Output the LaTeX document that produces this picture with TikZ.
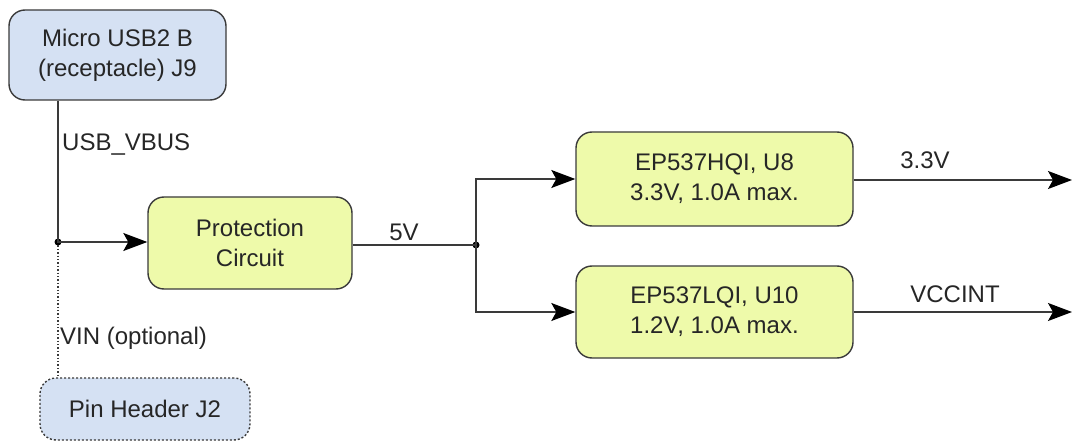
\documentclass[tikz,border=0pt]{standalone}
\usepackage{fontspec}
\setmainfont{Liberation Sans}
\usetikzlibrary{arrows.meta}
\definecolor{boxblue}{HTML}{D5E1F3}
\definecolor{boxgreen}{HTML}{EEFAAA}
\definecolor{edge}{HTML}{3A3A3A}
\tikzset{
  x=1pt,y=-1pt,
  blk/.style={draw=edge,line width=1.4pt,rounded corners=16pt,inner sep=0pt,align=center,font=\fontsize{24}{30}\selectfont,text=black!85},
  bluebox/.style={blk,fill=boxblue},
  greenbox/.style={blk,fill=boxgreen},
  wire/.style={draw=edge,line width=1.4pt},
  arr/.style={wire,-{Stealth[length=24pt,width=18pt,inset=5pt,color=black]}},
  lbl/.style={font=\fontsize{24}{30}\selectfont,text=black!85,inner sep=0pt},
  dot/.style={circle,fill=black,inner sep=0pt,minimum size=7pt}
}
\begin{document}
\begin{tikzpicture}
\useasboundingbox (0,0) rectangle (1072,441);
\node[bluebox,minimum width=217pt,minimum height=90pt] (usb) at (117.5,55) {Micro USB2 B\\(receptacle) J9};
\node[greenbox,minimum width=204pt,minimum height=92pt] (prot) at (250,243) {Protection\\Circuit};
\node[greenbox,minimum width=277pt,minimum height=94pt] (u8) at (714.5,179) {EP537HQI, U8\\3.3V, 1.0A max.};
\node[greenbox,minimum width=277pt,minimum height=92pt] (u10) at (714.5,312) {EP537LQI, U10\\1.2V, 1.0A max.};
\node[bluebox,dash pattern=on 2pt off 2pt,minimum width=210pt,minimum height=62pt] (pin) at (145,409) {Pin Header J2};
\node[dot] (j1) at (58,242) {};
\node[dot] (j2) at (476,245) {};
\coordinate (o1) at (1072,180);
\coordinate (o2) at (1072,312);
\draw[wire] (usb.south -| j1) -- (j1.center);
\draw[arr] (j1.center) -- (prot.west |- j1);
\draw[wire,dotted] (j1.center) -- (pin.north -| j1);
\draw[wire] (prot.east |- j2) -- (j2.center);
\draw[arr] (j2.center) |- (u8.west);
\draw[arr] (j2.center) |- (u10.west);
\draw[arr] (u8.east |- o1) -- (o1);
\draw[arr] (u10.east |- o2) -- (o2);
\node[lbl,anchor=west] (l1) at (62,145) {USB\_VBUS};
\node[lbl,anchor=west] (l2) at (60,338) {VIN (optional)};
\node[lbl] (l3) at (404,232) {5V};
\node[lbl] (l4) at (925,160) {3.3V};
\node[lbl] (l5) at (955,294) {VCCINT};
\end{tikzpicture}
\end{document}
